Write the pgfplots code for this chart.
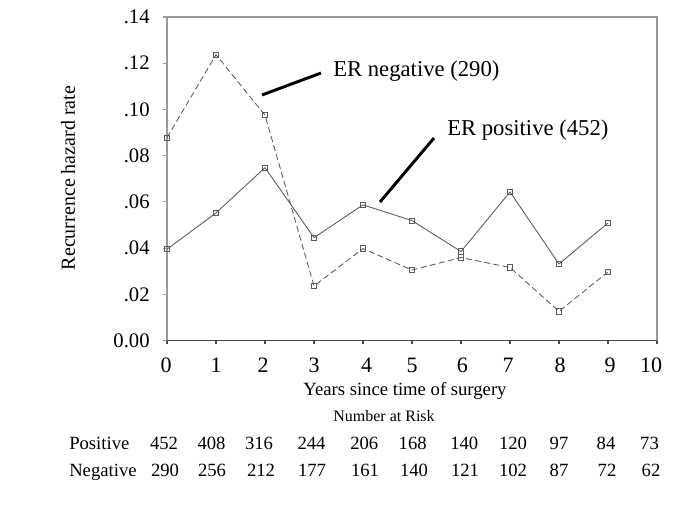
\documentclass[border=0pt]{standalone}
\usepackage{pgfplots}
\pgfplotsset{compat=1.18}
\usepackage{fontspec}
\setmainfont{Liberation Serif}
\definecolor{axgray}{HTML}{9A9A9A}
\definecolor{botgray}{HTML}{4A4A4A}
\definecolor{lngray}{HTML}{5A5A5A}
\newcommand{\sh}[2]{\makebox[0pt]{\hspace*{#1}#2}}
\begin{document}
\begin{tikzpicture}
\useasboundingbox (0,0) rectangle (513.75pt,384.75pt);
\begin{axis}[
  at={(125.25pt,129.375pt)}, anchor=south west, scale only axis,
  width=367.5pt, height=242.6pt,
  xmin=0, xmax=10, ymin=0, ymax=0.14,
  xtick={0,1,2,3,4,5,6,7,8,9,10},
  xticklabels={\sh{-1.5pt}{0},1,\sh{-3pt}{2},3,\sh{5.5pt}{4},5,\sh{2pt}{6},\sh{-3pt}{7},\sh{1.5pt}{8},\sh{3pt}{9},\sh{-9pt}{10}},
  ytick={0,0.02,0.04,0.06,0.08,0.10,0.12,0.14},
  yticklabels={0.00,.02,.04,.06,.08,.10,.12,.14},
  /pgf/number format/assume math mode=true,
  tick align=outside, tick pos=left, major tick length=3pt,
  axis line style={axgray, line width=1pt},
  xtick style={botgray, line width=0.8pt},
  ytick style={axgray, line width=0.8pt},
  xticklabel style={font=\fontsize{16.5}{19}\selectfont, yshift=-6.5pt},
  yticklabel style={font=\fontsize{15.5}{18}\selectfont, xshift=-6.5pt},
  clip=false,
]
\draw[botgray, line width=1pt] (rel axis cs:0,0) -- (rel axis cs:1,0);
% ER positive (solid)
\addplot[lngray, line width=0.65pt, mark=square, mark size=2pt,
  mark options={solid, fill=white, line width=0.6pt}] coordinates {
  (0,0.0395) (1,0.0552) (2,0.0748) (3,0.0445) (4,0.0587)
  (5,0.0519) (6,0.0385) (7,0.0643) (8,0.0331) (9,0.0509)};
% ER negative (dashed)
\addplot[lngray, line width=0.65pt, dash pattern=on 4.5pt off 2.5pt, mark=square, mark size=2pt,
  mark options={solid, fill=white, line width=0.6pt}] coordinates {
  (0,0.0878) (1,0.1237) (2,0.0975) (3,0.0236) (4,0.0398)
  (5,0.0305) (6,0.0359) (7,0.0316) (8,0.0126) (9,0.0297)};
\end{axis}
\begin{scope}[x=0.75pt, y=-0.75pt, shift={(0,384.75pt)}]
  % annotation pointers
  \draw[black, line width=2.2pt] (262,95) -- (321,73);
  \draw[black, line width=2.2pt] (380,202) -- (434,138);
  \node[anchor=base west, inner sep=0pt, font=\fontsize{17}{20}\selectfont] at (333,77) {ER negative (290)};
  \node[anchor=base west, inner sep=0pt, font=\fontsize{17}{20}\selectfont] at (447,136) {ER positive (452)};
  % axis titles
  \node[rotate=90, font=\fontsize{15}{18}\selectfont] at (68,178) {Recurrence hazard rate};
  \node[anchor=base, inner sep=0pt, font=\fontsize{14}{17}\selectfont] at (405,396) {Years since time of surgery};
  \node[anchor=base, inner sep=0pt, font=\fontsize{12}{14}\selectfont] at (384,421.5) {Number at Risk};
  % number at risk table
  \node[anchor=base west, inner sep=0pt, font=\fontsize{14}{17}\selectfont] at (69,450) {Positive};
  \node[anchor=base west, inner sep=0pt, font=\fontsize{14}{17}\selectfont] at (69,476.7) {Negative};
  \foreach \xx/\vv in {164/452,211.5/408,259/316,311.5/244,364.3/206,412.7/168,464.3/140,513/120,559/97,606/84,649.5/73}
    \node[anchor=base, inner sep=0pt, font=\fontsize{14}{17}\selectfont] at (\xx,450) {\vv};
  \foreach \xx/\vv in {165/290,212/256,261/212,312/177,365/161,414/140,465/121,513/102,559/87,607/72,651/62}
    \node[anchor=base, inner sep=0pt, font=\fontsize{14}{17}\selectfont] at (\xx,476.7) {\vv};
\end{scope}
\end{tikzpicture}
\end{document}
